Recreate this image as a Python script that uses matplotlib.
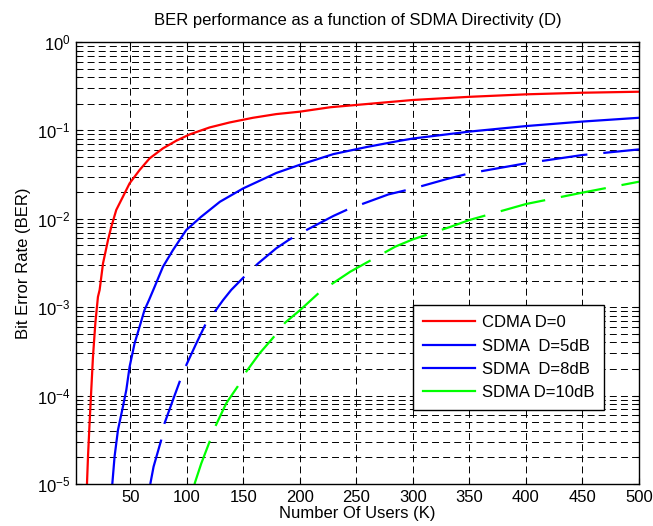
import numpy as np
import matplotlib.pyplot as plt
from matplotlib.lines import Line2D

plt.rcParams['font.family'] = ['Liberation Sans', 'DejaVu Sans']
plt.rcParams['mathtext.fontset'] = 'custom'
plt.rcParams['mathtext.rm'] = 'Liberation Sans'
plt.rcParams['lines.scale_dashes'] = False

# values (K, BER)
k_cdma = [11.7, 12.6, 14.0, 15.5, 17.0, 19.1, 21.4, 22.9, 25.9, 30.3, 33.2, 37.6,
          43.5, 49.4, 58.2, 67.1, 78.9, 90.7, 102.4, 120.1, 137.8, 158.5, 179.1,
          200, 227, 300, 350, 400, 450, 500]
ber_cdma = [1e-5, 2.04e-5, 4.86e-5, 1.16e-4, 2.75e-4, 6.6e-4, 1.31e-3, 1.57e-3,
            3.14e-3, 5.75e-3, 8.1e-3, 1.26e-2, 1.78e-2, 2.52e-2, 3.56e-2, 4.83e-2,
            6.27e-2, 7.65e-2, 9.0e-2, 0.108, 0.123, 0.139, 0.153, 0.163, 0.183,
            0.221, 0.240, 0.256, 0.267, 0.274]

k_d5 = [34.1, 36.1, 39.1, 43.5, 46.5, 49.4, 53.8, 58.2, 62.6, 66.5, 71.5, 78.9,
        87.8, 99.5, 112.5, 129.3, 149.9, 169, 179.1, 200.3, 229.7, 259.3, 288.7,
        300, 350, 400, 450, 500]
ber_d5 = [1e-5, 2.04e-5, 4.08e-5, 7.5e-5, 1.16e-4, 2.12e-4, 3.9e-4, 6.0e-4, 9.3e-4,
          1.2e-3, 1.7e-3, 2.87e-3, 4.44e-3, 7.47e-3, 1.05e-2, 1.56e-2, 2.21e-2,
          2.87e-2, 3.3e-2, 4.1e-2, 5.4e-2, 6.5e-2, 7.65e-2, 8.1e-2, 9.7e-2, 0.112,
          0.126, 0.139]

k_d8 = [67.7, 70.6, 77.4, 80.3, 87.7, 94.2, 100.1, 108.4, 117.0, 126.3, 132, 139.3,
        152.2, 163.2, 179.1, 190, 197.4, 229.8, 243, 278.4, 300, 330, 350, 400,
        450, 500]
ber_d8 = [1e-5, 1.57e-5, 3.16e-5, 4.86e-5, 8.9e-5, 1.5e-4, 2.3e-4, 3.9e-4, 6.6e-4,
          9.5e-4, 1.2e-3, 1.57e-3, 2.31e-3, 3.14e-3, 4.64e-3, 5.75e-3, 6.56e-3,
          1.08e-2, 1.29e-2, 1.89e-2, 2.2e-2, 2.82e-2, 3.27e-2, 4.25e-2, 5.27e-2,
          6.1e-2]

k_d10 = [106.8, 112.8, 120.1, 125.4, 134.9, 145.2, 152.6, 164.3, 177.6, 187.0,
         200.3, 216.5, 226.8, 244.5, 271, 284.3, 300, 333, 350, 400, 450, 500]
ber_d10 = [1e-5, 1.71e-5, 3.0e-5, 4.53e-5, 8.2e-5, 1.28e-4, 1.87e-4, 3.0e-4,
           4.72e-4, 6.7e-4, 9.3e-4, 1.44e-3, 1.78e-3, 2.52e-3, 3.89e-3, 4.84e-3,
           5.86e-3, 8.1e-3, 9.7e-3, 1.47e-2, 1.98e-2, 2.63e-2]

labels = ['CDMA D=0', 'SDMA  D=5dB', 'SDMA  D=8dB', 'SDMA D=10dB']
colors = ['#ff0000', '#0000ff', '#0000ff', '#00ff00']

fig = plt.figure(figsize=(6.53, 5.26), dpi=100)
ax = fig.add_axes([0.1164, 0.0798, 0.8622, 0.8403])

long_dash = (0, (33, 11.5))
ax.semilogy(k_cdma, ber_cdma, color=colors[0], lw=1.6)
ax.semilogy(k_d5, ber_d5, color=colors[1], lw=1.6)
ax.semilogy(k_d8, ber_d8, color=colors[2], lw=1.6, linestyle=long_dash)
ax.semilogy(k_d10, ber_d10, color=colors[3], lw=1.6, linestyle=long_dash)

ax.set_xlim(2, 500)
ax.set_ylim(1e-5, 1)
ax.set_xticks(np.arange(50, 501, 50))

ax.grid(True, which='major', color='black', linestyle=(0, (5, 3)), lw=0.7)
ax.grid(True, which='minor', axis='y', color='black', linestyle=(0, (5, 3)), lw=0.7)
ax.tick_params(which='both', direction='in', top=True, right=True, labelsize=12,
               width=0.8)
ax.tick_params(which='major', length=4, pad=4)
ax.tick_params(which='minor', length=2.5)
for s in ax.spines.values():
    s.set_linewidth(1.0)

ax.set_title('BER performance as a function of SDMA Directivity (D)', fontsize=12, pad=12)
ax.set_xlabel('Number Of Users (K)', fontsize=12, labelpad=1)
ax.set_ylabel('Bit Error Rate (BER)', fontsize=12, labelpad=4)

handles = [Line2D([], [], color=c, lw=1.6) for c in colors]
leg = ax.legend(handles, labels, loc='lower right', bbox_to_anchor=(0.938, 0.167),
                borderaxespad=0, fontsize=12, frameon=True, fancybox=False,
                framealpha=1, edgecolor='black', handlelength=3.1,
                handletextpad=0.4, labelspacing=0.5, borderpad=0.6)
leg.get_frame().set_linewidth(1.0)

fig.savefig('out.png', dpi=100)
